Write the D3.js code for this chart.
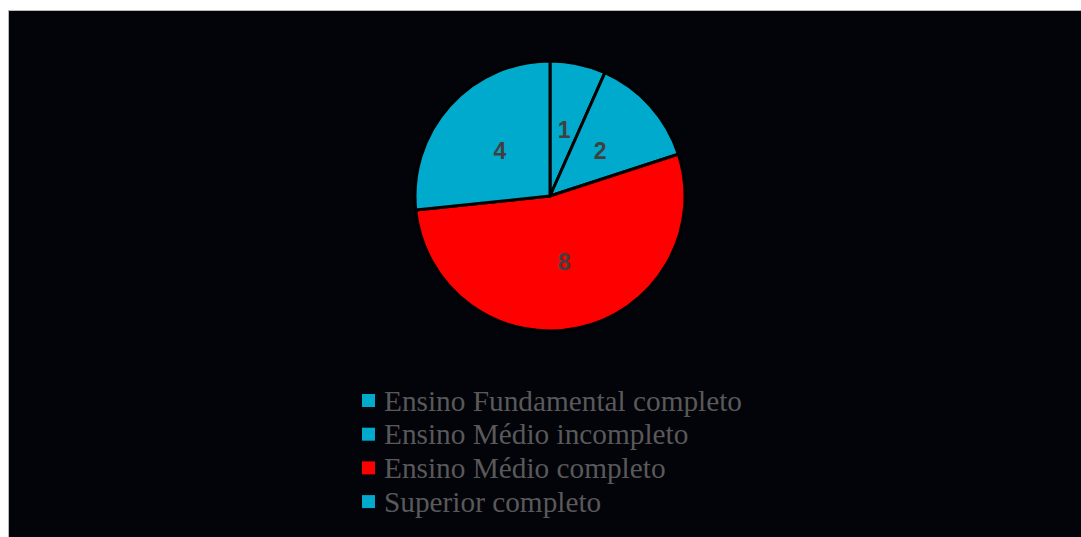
<!DOCTYPE html>
<html>
<head>
<meta charset="utf-8">
<script src="https://cdn.jsdelivr.net/npm/d3@7"></script>
<style>
  html, body { margin: 0; padding: 0; background: #ffffff; }
  svg { display: block; }
</style>
</head>
<body>
<svg id="chart" width="1081" height="537"></svg>
<script>
// Education level of respondents
const categories = [
  "Ensino Fundamental completo",
  "Ensino Médio incompleto",
  "Ensino Médio completo",
  "Superior completo"
];
const values = [1, 2, 8, 4];
const colors = ["#00aacc", "#00aacc", "#ff0000", "#00aacc"];

const svg = d3.select("#chart");
const W = 1081, H = 537;

// chart area panel
svg.append("rect")
  .attr("x", 8.5).attr("y", 10.5)
  .attr("width", W - 8).attr("height", H - 10)
  .attr("fill", "#03030a")
  .attr("stroke", "#b8b8b8")
  .attr("stroke-width", 1);

const cx = 550, cy = 196, R = 135;

const pie = d3.pie().sort(null).value(d => d.v);
const arcs = pie(categories.map((c, i) => ({ c, v: values[i], color: colors[i] })));
const arc = d3.arc().innerRadius(0).outerRadius(R);

const g = svg.append("g").attr("transform", `translate(${cx},${cy})`);

g.selectAll("path.slice")
  .data(arcs)
  .join("path")
  .attr("class", "slice")
  .attr("d", arc)
  .attr("fill", d => d.data.color)
  .attr("stroke", "#000000")
  .attr("stroke-width", 3)
  .attr("stroke-linejoin", "round");

g.selectAll("text.val")
  .data(arcs)
  .join("text")
  .attr("class", "val")
  .attr("transform", d => `translate(${arc.centroid(d)})`)
  .attr("text-anchor", "middle")
  .attr("dy", "0.36em")
  .attr("font-family", "'Liberation Sans', Arial, sans-serif")
  .attr("font-weight", "bold")
  .attr("font-size", 23)
  .attr("fill", "#404040")
  .text(d => d.data.v);

// legend
const legend = svg.append("g");
const lx = 362, ly0 = 401, step = 33.7;
const rows = legend.selectAll("g.row")
  .data(categories.map((c, i) => ({ c, color: colors[i] })))
  .join("g")
  .attr("class", "row")
  .attr("transform", (d, i) => `translate(${lx},${ly0 + i * step})`);

rows.append("rect")
  .attr("x", 0).attr("y", -7)
  .attr("width", 13).attr("height", 13)
  .attr("fill", d => d.color);

rows.append("text")
  .attr("x", 22)
  .attr("dy", "0.33em")
  .attr("font-family", "'Liberation Serif', 'Times New Roman', serif")
  .attr("font-size", 29.3)
  .attr("fill", "#595959")
  .text(d => d.c);
</script>
</body>
</html>
